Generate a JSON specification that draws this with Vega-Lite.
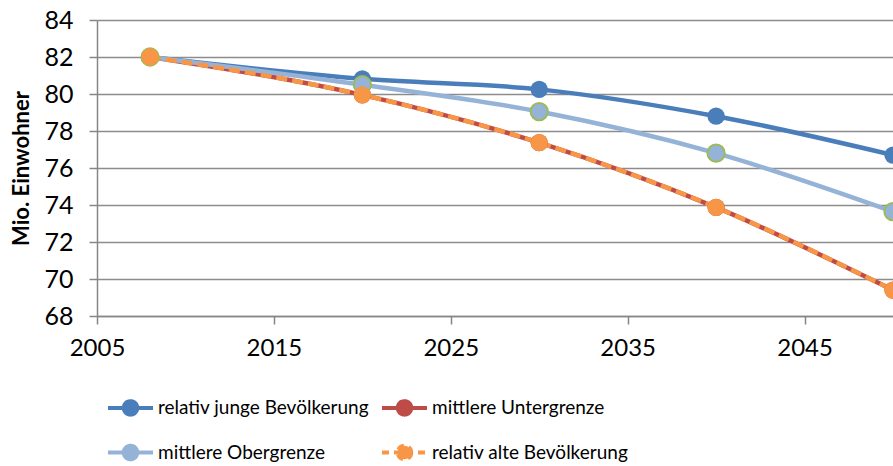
{
  "$schema": "https://vega.github.io/schema/vega-lite/v6.json",
  "autosize": "none",
  "width": 796,
  "height": 296,
  "padding": {"left": 97, "top": 20, "right": 0, "bottom": 150},
  "background": "white",
  "config": {
    "view": {"stroke": null},
    "font": "Lato"
  },
  "data": {
    "values": [
      {"year": 2008, "value": 82.0, "series": "relativ junge Bevölkerung"},
      {"year": 2020, "value": 80.82, "series": "relativ junge Bevölkerung"},
      {"year": 2030, "value": 80.25, "series": "relativ junge Bevölkerung"},
      {"year": 2040, "value": 78.8, "series": "relativ junge Bevölkerung"},
      {"year": 2050, "value": 76.7, "series": "relativ junge Bevölkerung"},
      {"year": 2008, "value": 82.0, "series": "mittlere Untergrenze"},
      {"year": 2020, "value": 79.95, "series": "mittlere Untergrenze"},
      {"year": 2030, "value": 77.37, "series": "mittlere Untergrenze"},
      {"year": 2040, "value": 73.87, "series": "mittlere Untergrenze"},
      {"year": 2050, "value": 69.4, "series": "mittlere Untergrenze"},
      {"year": 2008, "value": 82.0, "series": "mittlere Obergrenze"},
      {"year": 2020, "value": 80.5, "series": "mittlere Obergrenze"},
      {"year": 2030, "value": 79.05, "series": "mittlere Obergrenze"},
      {"year": 2040, "value": 76.8, "series": "mittlere Obergrenze"},
      {"year": 2050, "value": 73.64, "series": "mittlere Obergrenze"},
      {"year": 2008, "value": 82.0, "series": "relativ alte Bevölkerung"},
      {"year": 2020, "value": 79.95, "series": "relativ alte Bevölkerung"},
      {"year": 2030, "value": 77.37, "series": "relativ alte Bevölkerung"},
      {"year": 2040, "value": 73.87, "series": "relativ alte Bevölkerung"},
      {"year": 2050, "value": 69.4, "series": "relativ alte Bevölkerung"}
    ]
  },
  "encoding": {
    "x": {
      "field": "year", "type": "quantitative",
      "scale": {"domain": [2005, 2050], "nice": false, "zero": false},
      "axis": {
        "title": null, "values": [2005, 2015, 2025, 2035, 2045], "format": "d",
        "grid": false, "labelFlush": false, "domainColor": "#868686", "domainWidth": 1.5,
        "tickColor": "#868686", "tickSize": 8, "tickWidth": 1.5,
        "labelFont": "Lato", "labelFontSize": 24, "labelColor": "#000000", "labelPadding": 12
      }
    },
    "y": {
      "field": "value", "type": "quantitative",
      "scale": {"domain": [68, 84], "nice": false, "zero": false},
      "axis": {
        "title": "Mio. Einwohner", "titleFont": "Lato", "titleFontSize": 22, "titleFontWeight": "bold",
        "titleColor": "#000000", "titlePadding": 10,
        "values": [68, 70, 72, 74, 76, 78, 80, 82, 84],
        "gridColor": "#8c8c8c", "gridWidth": 1.5,
        "domainColor": "#868686", "domainWidth": 1.5,
        "tickColor": "#868686", "tickSize": 8, "tickWidth": 1.5,
        "labelFont": "Lato", "labelFontSize": 25, "labelColor": "#000000", "labelPadding": 16
      }
    },
    "color": {
      "field": "series", "type": "nominal",
      "scale": {
        "domain": ["relativ junge Bevölkerung", "mittlere Untergrenze", "mittlere Obergrenze", "relativ alte Bevölkerung"],
        "range": ["#4a7ebb", "#be4b48", "#95b3d7", "#f79646"]
      },
      "legend": {
        "title": null, "orient": "none", "legendX": 9, "legendY": 363,
        "direction": "horizontal", "columns": 2, "columnPadding": 4, "rowPadding": 5,
        "symbolType": "M-1,0H1M0.3,0A0.3,0.3,0,1,1,-0.3,0A0.3,0.3,0,1,1,0.3,0Z",
        "symbolSize": 2025, "symbolStrokeWidth": 4, "symbolOpacity": 1,
        "labelFont": "Lato", "labelFontSize": 19, "labelColor": "#000000", "labelOffset": 3, "labelLimit": 400,
        "encode": {
          "symbols": {
            "update": {
              "fill": {"scale": "color", "field": "value"},
              "stroke": {"scale": "color", "field": "value"},
              "strokeDash": [
                {"test": "datum.value === 'relativ alte Bevölkerung'", "value": [7, 5]},
                {"value": [1, 0]}
              ]
            }
          }
        }
      }
    }
  },
  "layer": [
    {
      "transform": [{"filter": "datum.series !== 'relativ alte Bevölkerung'"}],
      "mark": {"type": "line", "interpolate": "monotone", "strokeWidth": 4.5}
    },
    {
      "transform": [{"filter": "datum.series === 'relativ alte Bevölkerung'"}],
      "mark": {"type": "line", "interpolate": "monotone", "strokeWidth": 4.5, "strokeDash": [11, 5]}
    },
    {
      "mark": {"type": "point", "filled": true, "size": 300, "opacity": 1, "shape": "circle"},
      "encoding": {
        "stroke": {
          "condition": {"test": "datum.series === 'mittlere Obergrenze'", "value": "#9bbb59"},
          "value": null
        },
        "strokeWidth": {"value": 2}
      }
    }
  ]
}
